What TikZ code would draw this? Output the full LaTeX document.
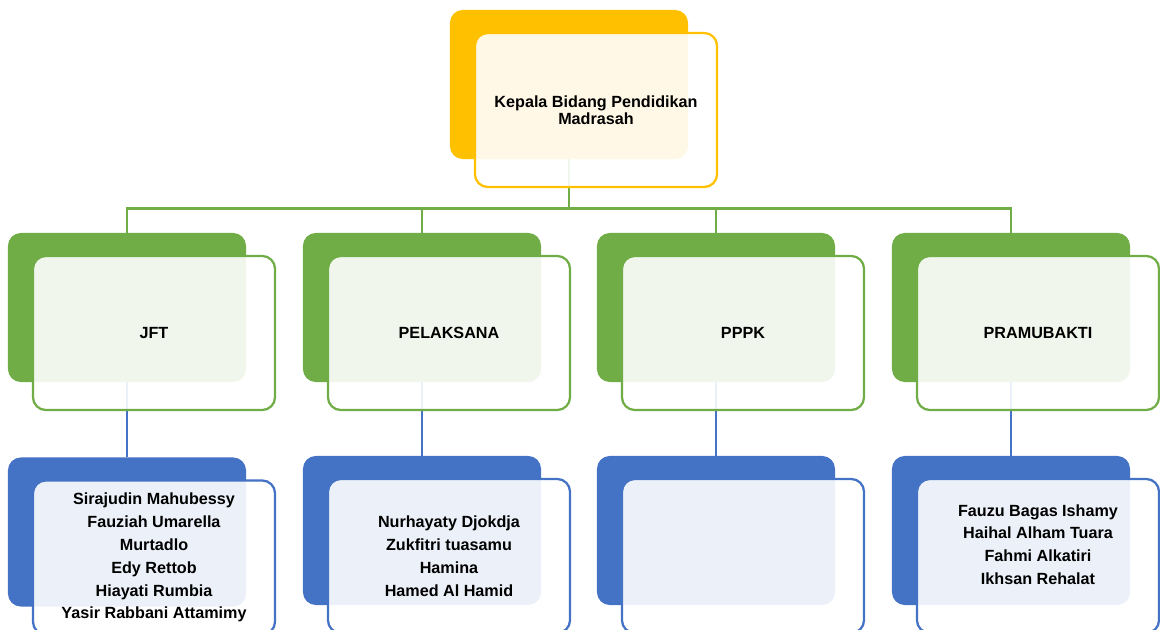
\documentclass[tikz,border=0pt]{standalone}
\usepackage{fontspec}
\setmainfont{Liberation Sans}
\usepackage{tikz}
\usepackage{xcolor}
\usetikzlibrary{calc, positioning}
\definecolor{headyellow}{HTML}{FFC000}
\definecolor{unitgreen}{HTML}{70AD47}
\definecolor{staffblue}{HTML}{4472C4}
\pgfdeclarelayer{background}
\pgfsetlayers{background,main}
\tikzset{
    backbox/.style={rectangle, rounded corners=0.32cm, minimum width=5.95cm, minimum height=3.725cm, inner sep=0pt},
    frontbox/.style={rectangle, rounded corners=0.32cm, minimum width=6.05cm, minimum height=3.85cm, inner sep=0pt,
        line width=1.6pt, fill=white, fill opacity=0.9, text opacity=1, align=center},
    titletext/.style={font=\fontsize{11.5}{12.2}\selectfont\bfseries},
    listtext/.style={font=\fontsize{11.5}{16.3}\selectfont\bfseries},
    link/.style={line width=1.9pt}
}
\newcommand{\orgunit}[5][listtext]{
    \node[backbox, fill=#4] (#2-b) at (#3) {};
    \node[frontbox, draw=#4, #1] (#2-f) at ($(#2-b) + (27, 25.5)$) {#5};
}

\begin{document}
\begin{tikzpicture}[x=0.025cm, y=-0.025cm]
                        \useasboundingbox (0, 0) rectangle (1160, 630);
                        % kepala
                        \orgunit[titletext]{head}{569, 84.5}{headyellow}{Kepala Bidang Pendidikan\\Madrasah}
                        % unit kerja
                        \orgunit{jft}{127, 307.5}{unitgreen}{JFT}
                        \orgunit{pel}{422, 307.5}{unitgreen}{PELAKSANA}
                        \orgunit{pppk}{716, 307.5}{unitgreen}{PPPK}
                        \orgunit{pram}{1011, 307.5}{unitgreen}{PRAMUBAKTI}
                        % nama pegawai
                        \orgunit{jftn}{127, 532}{staffblue}{Sirajudin Mahubessy\\Fauziah Umarella\\Murtadlo\\Edy Rettob\\Hiayati Rumbia\\Yasir Rabbani Attamimy}
                        \orgunit{peln}{422, 530.5}{staffblue}{Nurhayaty Djokdja\\Zukfitri tuasamu\\Hamina\\Hamed Al Hamid}
                        \orgunit{pppkn}{716, 530.5}{staffblue}{}
                        \orgunit{pramn}{1011, 530.5}{staffblue}{Fauzu Bagas Ishamy\\Haihal Alham Tuara\\Fahmi Alkatiri\\Ikhsan Rehalat\\\mbox{}}
                        \begin{pgfonlayer}{background}
                        \foreach \u in {jft, pel, pppk, pram}
                            \draw[link, unitgreen] (head-b.south) -- ++(0, 49) -| (\u-b.north);
                        \foreach \u in {jft, pel, pppk, pram}
                            \draw[link, staffblue] (\u-b.south) -- (\u n-b.north);
                        \end{pgfonlayer}
                    \end{tikzpicture}
\end{document}
